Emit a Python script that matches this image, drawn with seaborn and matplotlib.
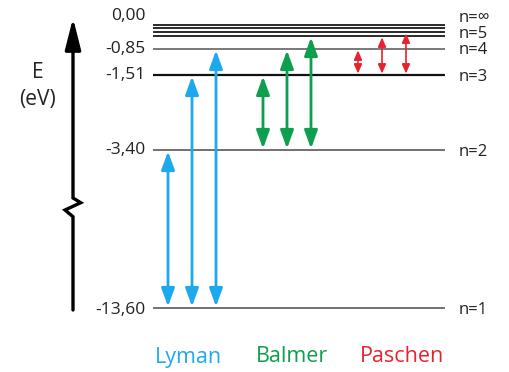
import numpy as np
import matplotlib
matplotlib.use("Agg")
import matplotlib.pyplot as plt
import seaborn as sns
from matplotlib import transforms

# ---------------- data ----------------
level_n = ["1", "2", "3", "4", "5", "6", "7", "∞"]
level_E = [-13.60, -3.40, -1.51, -0.85, -0.54, -0.38, -0.28, 0.00]
tick_E = [-13.60, -3.40, -1.51, -0.85, 0.00]
labelled_n = ["1", "2", "3", "4", "5", "∞"]
series_names = ["Lyman", "Balmer", "Paschen"]
series_lower = ["1", "2", "3"]
series_upper = [["2", "3", "4"], ["3", "4", "5"], ["4", "5", "6"]]

# ---------------- layout ----------------
W, H = 509, 372
level_pix = [308, 150, 75, 49, 36, 32, 28, 24.5]   # drawn height (px from top) of each level
line_x = (153, 445)
series_x0 = [168, 263, 358]
series_step = 24
series_colors = ["#1ea9ee", "#0c9f4d", "#e6232f"]
series_label_pos = [(188, 357), (292, 357), (402, 357)]
level_style = {"1": ("#4a4a4a", 1.1), "2": ("#4a4a4a", 1.1), "3": ("#111111", 1.6),
               "4": ("#555555", 1.1), "5": ("#2a2a2a", 1.4), "6": ("#2a2a2a", 1.4),
               "7": ("#2a2a2a", 1.4), "∞": ("#2a2a2a", 1.4)}
tick_offset_px = {0.00: 8.5, -13.60: -2}
name_offset_px = {"∞": 8, "5": 4, "4": 0.5}

sns.set_theme(style="white")
plt.rcParams["font.family"] = ["Open Sans", "DejaVu Sans"]

fig = plt.figure(figsize=(W / 100, H / 100), dpi=100)
ax = fig.add_axes([0, 0, 1, 1])

# piecewise (broken) energy scale
kE = np.array([-40.0] + level_E + [10.0])
kP = H - np.array([level_pix[0] + 26.4 * 6] + level_pix + [level_pix[-1] - 10 * 30])
fwd = lambda e: np.interp(e, kE, kP)
inv = lambda p: np.interp(p, kP, kE)
ax.set_yscale("function", functions=(fwd, inv))

E_of = dict(zip(level_n, level_E))

# energy levels
for n, E in zip(level_n, level_E):
    c, lw = level_style[n]
    sns.lineplot(x=list(line_x), y=[E, E], ax=ax, color=c, linewidth=lw,
                 solid_capstyle="butt")

# transitions
for si, name in enumerate(series_names):
    lo = E_of[series_lower[si]]
    small = name == "Paschen"
    style = ("<|-|>,head_length=0.55,head_width=0.24" if small
             else "<|-|>,head_length=1.1,head_width=0.4")
    for j, up in enumerate(series_upper[si]):
        x = series_x0[si] + j * series_step
        ax.annotate("", xy=(x, E_of[up]), xytext=(x, lo),
                    arrowprops=dict(arrowstyle=style, color=series_colors[si],
                                    lw=1.2 if small else 2.0, mutation_scale=10,
                                    shrinkA=1, shrinkB=1))

# tick labels (left)
for E in tick_E:
    off = tick_offset_px.get(E, 0) * 72 / 100
    tr = transforms.offset_copy(ax.transData, fig=fig, x=0, y=off, units="points")
    ax.text(146, E, f"{E:.2f}".replace(".", ","), ha="right", va="center",
            fontsize=12.5, color="#222222", transform=tr)

# level names (right)
for n in labelled_n:
    off = name_offset_px.get(n, 0) * 72 / 100
    tr = transforms.offset_copy(ax.transData, fig=fig, x=0, y=off, units="points")
    ax.text(459, E_of[n], f"n={n}", ha="left", va="center_baseline",
            fontsize=12, color="#222222", transform=tr)

ax.set_xlim(0, W)
ax.set_ylim(inv(0), inv(H))
ax.axis("off")

# series names
for name, (px, py), c in zip(series_names, series_label_pos, series_colors):
    fig.text(px / W, 1 - py / H, name, ha="center", va="center", fontsize=15.5, color=c)

# energy axis label
fig.text(38 / W, 1 - 72 / H, "E", ha="center", va="center", fontsize=15, color="#222222")
fig.text(38 / W, 1 - 100 / H, "(eV)", ha="center", va="center", fontsize=15, color="#222222")

# energy axis arrow with break
ax2 = fig.add_axes([0, 0, 1, 1], facecolor="none")
ax2.set_xlim(0, W)
ax2.set_ylim(H, 0)
ax2.axis("off")
ax2.plot([73, 73, 65, 80.7, 73, 73], [310, 216.7, 210, 202.7, 198, 40],
         color="black", lw=2.4, solid_joinstyle="miter")
ax2.annotate("", xy=(73, 18), xytext=(73, 46),
             arrowprops=dict(arrowstyle="-|>,head_length=1.9,head_width=0.48",
                             color="black", lw=2.4, mutation_scale=10,
                             shrinkA=0, shrinkB=0))

fig.savefig("out.png", dpi=100)
